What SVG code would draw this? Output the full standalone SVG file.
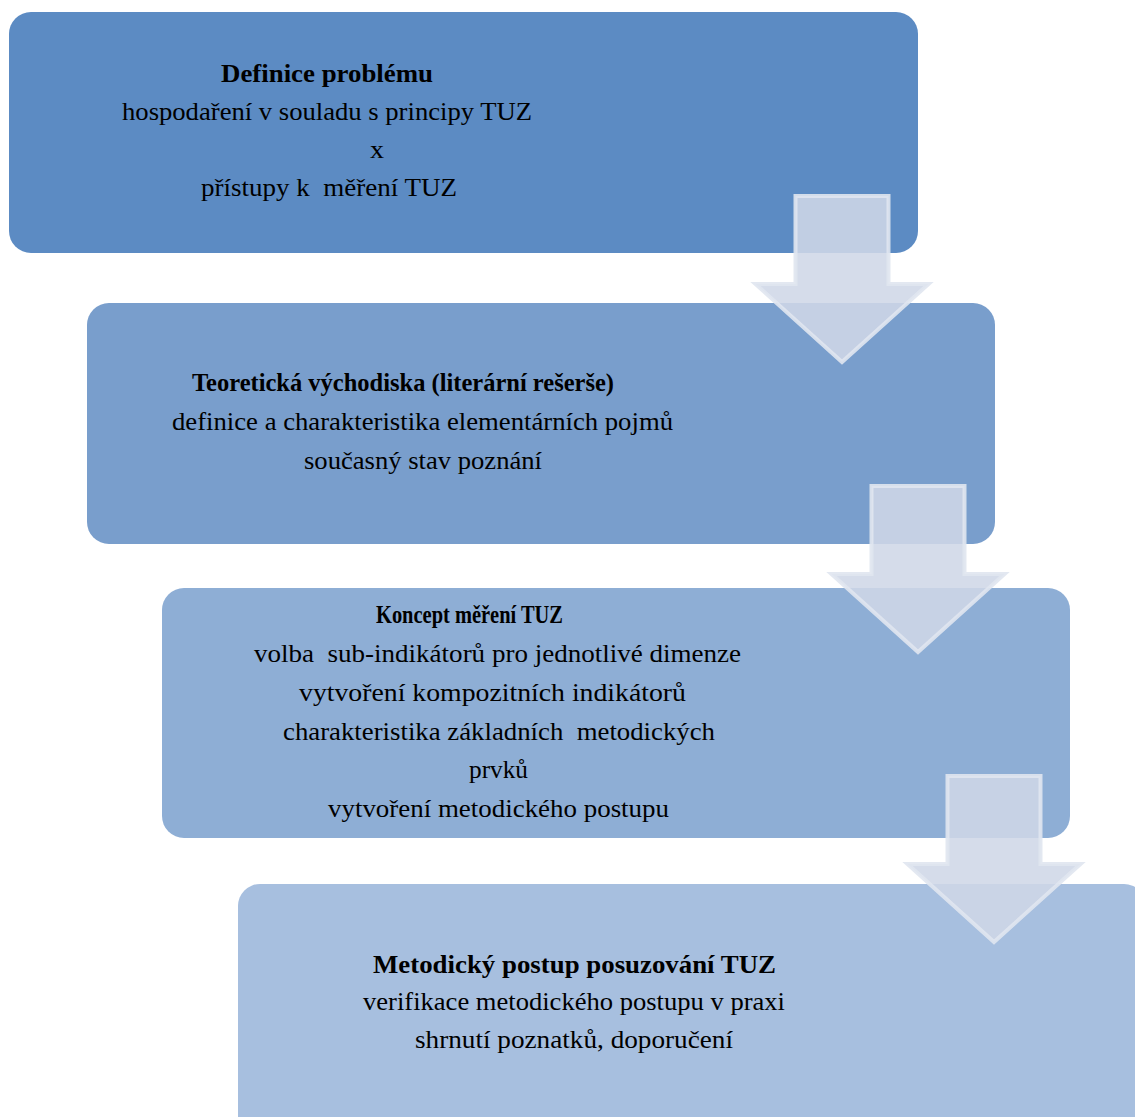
<svg xmlns="http://www.w3.org/2000/svg" width="1135" height="1117" viewBox="0 0 1135 1117">
<style>
.t{font-family:"Liberation Serif","Times New Roman",serif;font-size:25px;fill:#000;white-space:pre}
.b{font-weight:bold}
.arr{fill:rgb(207,215,231);fill-opacity:0.88;stroke:rgb(224,230,240);stroke-opacity:0.9;stroke-width:4;stroke-linejoin:miter}
</style>
<defs>
<path id="arrow" d="M-46.5,0 H46.5 V88 H86.5 L0,166 L-86.5,88 H-46.5 Z"/>
</defs>
<rect width="1135" height="1117" fill="#fff"/>
<g id="node1">
<rect x="9" y="12" width="909" height="241" rx="22" fill="#5c8bc3"/>
<text class="t b" x="221" y="82" textLength="212" lengthAdjust="spacingAndGlyphs">Definice problému</text>
<text class="t" x="122" y="120" textLength="410" lengthAdjust="spacingAndGlyphs">hospodaření v souladu s principy TUZ</text>
<text class="t" x="370" y="158" textLength="14" lengthAdjust="spacingAndGlyphs">x</text>
<text class="t" x="201" y="196" textLength="256" lengthAdjust="spacingAndGlyphs" xml:space="preserve">přístupy k  měření TUZ</text>
</g>
<g id="node2">
<rect x="87" y="303" width="908" height="241" rx="22" fill="#799ecc"/>
<text class="t b" x="192" y="391" textLength="422" lengthAdjust="spacingAndGlyphs">Teoretická východiska (literární rešerše)</text>
<text class="t" x="172" y="430" textLength="501" lengthAdjust="spacingAndGlyphs">definice a charakteristika elementárních pojmů</text>
<text class="t" x="304" y="469" textLength="238" lengthAdjust="spacingAndGlyphs">současný stav poznání</text>
</g>
<g id="node3">
<rect x="162" y="588" width="908" height="250" rx="22" fill="#8eaed5"/>
<text class="t b" x="376" y="623" textLength="187" lengthAdjust="spacingAndGlyphs">Koncept měření TUZ</text>
<text class="t" x="254" y="662" textLength="487" lengthAdjust="spacingAndGlyphs" xml:space="preserve">volba  sub-indikátorů pro jednotlivé dimenze</text>
<text class="t" x="299" y="701" textLength="387" lengthAdjust="spacingAndGlyphs">vytvoření kompozitních indikátorů</text>
<text class="t" x="283" y="740" textLength="432" lengthAdjust="spacingAndGlyphs" xml:space="preserve">charakteristika základních  metodických</text>
<text class="t" x="469" y="778" textLength="59" lengthAdjust="spacingAndGlyphs">prvků</text>
<text class="t" x="328" y="817" textLength="341" lengthAdjust="spacingAndGlyphs">vytvoření metodického postupu</text>
</g>
<g id="node4">
<rect x="238" y="884" width="908" height="260" rx="22" fill="#a7bfdf"/>
<text class="t b" x="373" y="973" textLength="403" lengthAdjust="spacingAndGlyphs">Metodický postup posuzování TUZ</text>
<text class="t" x="363" y="1010" textLength="422" lengthAdjust="spacingAndGlyphs">verifikace metodického postupu v praxi</text>
<text class="t" x="415" y="1048" textLength="318" lengthAdjust="spacingAndGlyphs">shrnutí poznatků, doporučení</text>
</g>
<g id="connectors">
<use href="#arrow" class="arr" transform="translate(842,196)"/>
<use href="#arrow" class="arr" transform="translate(918,486)"/>
<use href="#arrow" class="arr" transform="translate(994,776)"/>
</g>
</svg>
